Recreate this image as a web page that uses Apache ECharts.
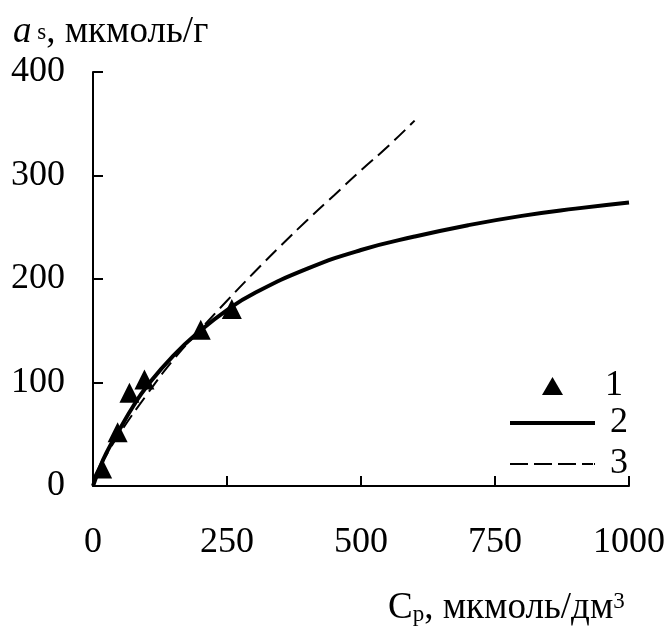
<!DOCTYPE html>
<html>
<head>
<meta charset="utf-8">
<script src="https://cdn.jsdelivr.net/npm/echarts@6/dist/echarts.min.js"></script>
<style>
html,body{margin:0;padding:0;background:#fff;}
#chart{width:668px;height:634px;}
</style>
</head>
<body>
<div id="chart"></div>
<script>
// Experimental points (series 1)
const pointsX = [17, 46, 68, 96, 201, 259];
const pointsY = [17, 52, 90, 103, 151, 171];
// Curve 2 (solid)
const curve2X = [0, 10, 25, 50, 75, 100, 150, 200, 250, 300, 400, 500, 600, 700, 800, 900, 1000];
const curve2Y = [0, 14, 32, 55, 77, 96, 126, 150, 170, 186, 210, 228, 241, 252, 261, 268, 274];
// Curve 3 (dashed)
const curve3X = [0, 10, 25, 50, 100, 150, 200, 250, 300, 350, 400, 450, 500, 550, 600];
const curve3Y = [0, 15, 30, 51, 88, 122, 151, 179, 206, 232, 257, 281, 305, 328, 353];
// Axis ticks
const xTicks = [0, 250, 500, 750, 1000];
const yTicks = [0, 100, 200, 300, 400];
const legendNames = ['1', '2', '3'];

const FONT = '"Liberation Serif", "Times New Roman", serif';
const FS = 36;
const zip = (xs, ys) => xs.map((x, i) => [x, ys[i]]);

const chart = echarts.init(document.getElementById('chart'), null, {renderer: 'canvas'});
const labelStyle = {color: '#000', fontSize: FS, fontFamily: FONT, formatter: v => String(v)};
const legendText = {color: '#000', fontSize: FS, fontFamily: FONT};
chart.setOption({
  animation: false,
  backgroundColor: '#fff',
  grid: {left: 93, right: 39, top: 72, bottom: 148, containLabel: false},
  xAxis: {
    type: 'value', min: xTicks[0], max: xTicks[xTicks.length - 1], interval: 250,
    axisLine: {show: true, onZero: false, lineStyle: {color: '#000', width: 2}},
    axisTick: {show: true, inside: true, length: 10, lineStyle: {color: '#000', width: 2}},
    splitLine: {show: false},
    axisLabel: Object.assign({}, labelStyle, {margin: 39})
  },
  yAxis: {
    type: 'value', min: yTicks[0], max: yTicks[yTicks.length - 1], interval: 100,
    axisLine: {show: true, onZero: false, lineStyle: {color: '#000', width: 2}},
    axisTick: {show: true, inside: true, length: 10, lineStyle: {color: '#000', width: 2}},
    splitLine: {show: false},
    axisLabel: Object.assign({}, labelStyle, {margin: 28, padding: [2, 0, 0, 0]})
  },
  legend: [
    {data: [{name: legendNames[0], icon: 'triangle'}], left: 542, top: 368, padding: 0,
     itemWidth: 21, itemHeight: 18, itemStyle: {color: '#000', opacity: 1},
     textStyle: Object.assign({}, legendText, {padding: [0, 0, 0, 37]})},
    {data: [{name: legendNames[1], icon: 'rect'}], left: 510, top: 405, padding: 0,
     itemWidth: 85, itemHeight: 4, itemStyle: {color: '#000'},
     textStyle: Object.assign({}, legendText, {padding: [0, 0, 0, 10]})},
    {data: [{name: legendNames[2], icon: 'path://M0,0h18v2h-18z M24,0h18v2h-18z M48,0h18v2h-18z M72,0h11v2h-11z M84,0h1v2h-1z'}],
     left: 510, top: 446, padding: 0,
     itemWidth: 85, itemHeight: 2, itemStyle: {color: '#000'},
     textStyle: Object.assign({}, legendText, {padding: [0, 0, 0, 10]})}
  ],
  series: [
    {name: legendNames[2], type: 'line', data: zip(curve3X, curve3Y), smooth: true, symbol: 'none',
     lineStyle: {color: '#000', width: 2, type: [15, 7]}, itemStyle: {color: '#000'}, z: 2},
    {name: legendNames[1], type: 'line', data: zip(curve2X, curve2Y), smooth: true, symbol: 'none',
     lineStyle: {color: '#000', width: 4}, itemStyle: {color: '#000'}, z: 3},
    {name: legendNames[0], type: 'scatter', data: zip(pointsX, pointsY), symbol: 'triangle', symbolSize: 20,
     itemStyle: {color: '#000', opacity: 1}, z: 4}
  ],
  graphic: [
    {type: 'text', left: 13, top: 14, style: {
      text: '{i|a}{s| s}{n|, мкмоль/г}',
      rich: {
        i: {fontSize: 37, fontStyle: 'italic', fontFamily: FONT, fill: '#000', color: '#000'},
        s: {fontSize: 23, fontFamily: FONT, fill: '#000', color: '#000'},
        n: {fontSize: 37, fontFamily: FONT, fill: '#000', color: '#000'}
      }
    }},
    {type: 'text', left: 388, top: 590, style: {
      text: '{n|C}{b|р}{n|, мкмоль/дм}{p|3}',
      rich: {
        n: {fontSize: 37, fontFamily: FONT, fill: '#000', color: '#000'},
        b: {fontSize: 23, fontFamily: FONT, fill: '#000', color: '#000', padding: [12, 0, 0, 0]},
        p: {fontSize: 23, fontFamily: FONT, fill: '#000', color: '#000', verticalAlign: 'top'}
      }
    }}
  ]
});
</script>
</body>
</html>
